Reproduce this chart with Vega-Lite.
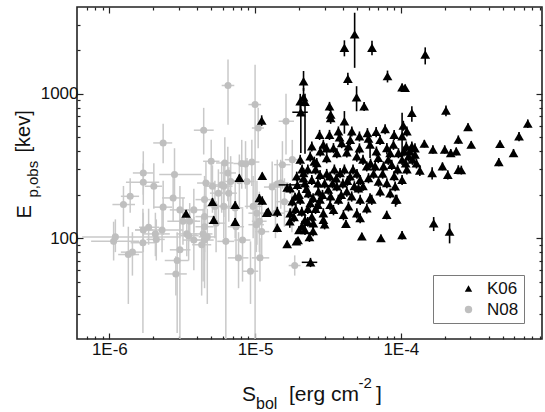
{
  "$schema": "https://vega.github.io/schema/vega-lite/v6.json",
  "width": 465,
  "height": 332,
  "autosize": {"type": "none"},
  "padding": {"left": 77, "top": 7, "right": 3, "bottom": 73},
  "config": {
    "view": {"stroke": "#222", "strokeWidth": 1.6},
    "font": "Liberation Sans",
    "axis": {"grid": false, "domain": false, "labelFont": "Liberation Sans", "titleFont": "Liberation Sans", "labelColor": "#111", "titleColor": "#111", "titleFontWeight": "normal", "tickColor": "#222", "tickWidth": 1.2}
  },
  "datasets": {
    "n08": [
      {"S":1.07e-6,"E":95,"Slo":7.5e-7,"Shi":1.6e-6,"Elo":70,"Ehi":130},
      {"S":1.1e-6,"E":102,"Slo":6.5e-7,"Shi":3.0e-6,"Elo":80,"Ehi":135},
      {"S":1.25e-6,"E":171,"Slo":1.05e-6,"Shi":1.5e-6,"Elo":120,"Ehi":230},
      {"S":1.39e-6,"E":195,"Slo":1.2e-6,"Shi":1.6e-6,"Elo":150,"Ehi":260},
      {"S":1.35e-6,"E":77,"Slo":1.15e-6,"Shi":1.6e-6,"Elo":35,"Ehi":120},
      {"S":1.44e-6,"E":80,"Slo":1.2e-6,"Shi":1.7e-6,"Elo":55,"Ehi":110},
      {"S":1.71e-6,"E":283,"Slo":1.45e-6,"Shi":2.0e-6,"Elo":200,"Ehi":400},
      {"S":1.71e-6,"E":244,"Slo":1.3e-6,"Shi":2.2e-6,"Elo":170,"Ehi":330},
      {"S":1.7e-6,"E":93,"Slo":1.4e-6,"Shi":2.1e-6,"Elo":22,"Ehi":160},
      {"S":1.71e-6,"E":114,"Slo":1.5e-6,"Shi":2.0e-6,"Elo":80,"Ehi":150},
      {"S":1.86e-6,"E":119,"Slo":1.6e-6,"Shi":2.2e-6,"Elo":90,"Ehi":160},
      {"S":2.02e-6,"E":229,"Slo":1.75e-6,"Shi":2.3e-6,"Elo":160,"Ehi":330},
      {"S":2.07e-6,"E":107,"Slo":1.7e-6,"Shi":2.6e-6,"Elo":75,"Ehi":150},
      {"S":2.1e-6,"E":98,"Slo":1.8e-6,"Shi":2.4e-6,"Elo":70,"Ehi":135},
      {"S":2.34e-6,"E":457,"Slo":2.0e-6,"Shi":2.7e-6,"Elo":330,"Ehi":620},
      {"S":2.34e-6,"E":164,"Slo":2.0e-6,"Shi":2.7e-6,"Elo":105,"Ehi":250},
      {"S":2.74e-6,"E":190,"Slo":2.3e-6,"Shi":3.3e-6,"Elo":130,"Ehi":270},
      {"S":2.8e-6,"E":276,"Slo":2.2e-6,"Shi":4.3e-6,"Elo":180,"Ehi":420},
      {"S":3.05e-6,"E":157,"Slo":2.6e-6,"Shi":3.6e-6,"Elo":100,"Ehi":230},
      {"S":2.92e-6,"E":70,"Slo":2.4e-6,"Shi":3.5e-6,"Elo":22,"Ehi":110},
      {"S":3.05e-6,"E":83,"Slo":2.6e-6,"Shi":3.6e-6,"Elo":12,"Ehi":130},
      {"S":2.86e-6,"E":56.5,"Slo":2.4e-6,"Shi":3.4e-6,"Elo":40,"Ehi":75},
      {"S":3.2e-6,"E":131,"Slo":2.5e-6,"Shi":4.0e-6,"Elo":90,"Ehi":190},
      {"S":3.4e-6,"E":107,"Slo":2.9e-6,"Shi":4.0e-6,"Elo":75,"Ehi":150},
      {"S":3.56e-6,"E":131,"Slo":3.0e-6,"Shi":4.2e-6,"Elo":95,"Ehi":175},
      {"S":3.8e-6,"E":157,"Slo":3.2e-6,"Shi":4.5e-6,"Elo":110,"Ehi":220},
      {"S":3.5e-6,"E":104,"Slo":3.0e-6,"Shi":4.1e-6,"Elo":70,"Ehi":140},
      {"S":4.44e-6,"E":560,"Slo":3.8e-6,"Shi":5.2e-6,"Elo":380,"Ehi":800},
      {"S":4.5e-6,"E":185,"Slo":3.9e-6,"Shi":5.2e-6,"Elo":120,"Ehi":270},
      {"S":4.6e-6,"E":241,"Slo":4.0e-6,"Shi":5.3e-6,"Elo":160,"Ehi":340},
      {"S":4.5e-6,"E":141,"Slo":3.9e-6,"Shi":5.2e-6,"Elo":80,"Ehi":200},
      {"S":4.4e-6,"E":107,"Slo":3.8e-6,"Shi":5.1e-6,"Elo":50,"Ehi":160},
      {"S":4.3e-6,"E":90,"Slo":3.7e-6,"Shi":5.0e-6,"Elo":40,"Ehi":140},
      {"S":4.5e-6,"E":97,"Slo":3.9e-6,"Shi":5.2e-6,"Elo":45,"Ehi":150},
      {"S":4.5e-6,"E":120,"Slo":3.9e-6,"Shi":5.2e-6,"Elo":70,"Ehi":170},
      {"S":4.7e-6,"E":102,"Slo":4.1e-6,"Shi":5.4e-6,"Elo":35,"Ehi":160},
      {"S":5.0e-6,"E":341,"Slo":4.4e-6,"Shi":5.7e-6,"Elo":230,"Ehi":480},
      {"S":5.1e-6,"E":229,"Slo":4.5e-6,"Shi":5.8e-6,"Elo":150,"Ehi":320},
      {"S":5.3e-6,"E":166,"Slo":4.6e-6,"Shi":6.1e-6,"Elo":100,"Ehi":250},
      {"S":5.4e-6,"E":127,"Slo":4.7e-6,"Shi":6.2e-6,"Elo":80,"Ehi":180},
      {"S":5.6e-6,"E":205,"Slo":4.9e-6,"Shi":6.4e-6,"Elo":130,"Ehi":300},
      {"S":5.9e-6,"E":234,"Slo":5.1e-6,"Shi":6.8e-6,"Elo":150,"Ehi":340},
      {"S":6.2e-6,"E":332,"Slo":5.4e-6,"Shi":7.1e-6,"Elo":200,"Ehi":500},
      {"S":6.1e-6,"E":229,"Slo":5.3e-6,"Shi":7.0e-6,"Elo":140,"Ehi":350},
      {"S":6.1e-6,"E":166,"Slo":5.3e-6,"Shi":7.0e-6,"Elo":100,"Ehi":260},
      {"S":6.3e-6,"E":95,"Slo":5.5e-6,"Shi":7.2e-6,"Elo":15,"Ehi":160},
      {"S":6.52e-6,"E":1143,"Slo":5.9e-6,"Shi":7.2e-6,"Elo":610,"Ehi":1730},
      {"S":6.5e-6,"E":283,"Slo":5.7e-6,"Shi":7.4e-6,"Elo":180,"Ehi":430},
      {"S":6.6e-6,"E":205,"Slo":5.8e-6,"Shi":7.5e-6,"Elo":130,"Ehi":310},
      {"S":6.8e-6,"E":247,"Slo":6.0e-6,"Shi":7.7e-6,"Elo":160,"Ehi":370},
      {"S":7.3e-6,"E":162,"Slo":6.4e-6,"Shi":8.3e-6,"Elo":100,"Ehi":250},
      {"S":7.4e-6,"E":120,"Slo":6.5e-6,"Shi":8.4e-6,"Elo":70,"Ehi":180},
      {"S":7.7e-6,"E":73,"Slo":6.5e-6,"Shi":9.0e-6,"Elo":45,"Ehi":110},
      {"S":7.8e-6,"E":250,"Slo":6.8e-6,"Shi":8.9e-6,"Elo":160,"Ehi":380},
      {"S":8.1e-6,"E":329,"Slo":7.1e-6,"Shi":9.2e-6,"Elo":220,"Ehi":480},
      {"S":8.6e-6,"E":327,"Slo":7.6e-6,"Shi":9.7e-6,"Elo":220,"Ehi":470},
      {"S":8.8e-6,"E":247,"Slo":7.8e-6,"Shi":9.9e-6,"Elo":160,"Ehi":360},
      {"S":9.3e-6,"E":59,"Slo":8.2e-6,"Shi":1.05e-5,"Elo":35,"Ehi":95},
      {"S":9.5e-6,"E":337,"Slo":8.4e-6,"Shi":1.07e-5,"Elo":230,"Ehi":480},
      {"S":1.0e-5,"E":843,"Slo":9.0e-6,"Shi":1.1e-5,"Elo":15,"Ehi":1590},
      {"S":1.05e-5,"E":580,"Slo":9.5e-6,"Shi":1.15e-5,"Elo":420,"Ehi":800},
      {"S":1.03e-5,"E":149,"Slo":9.0e-6,"Shi":1.2e-5,"Elo":90,"Ehi":250},
      {"S":1.07e-5,"E":131,"Slo":9.5e-6,"Shi":1.2e-5,"Elo":80,"Ehi":210},
      {"S":1.02e-5,"E":124,"Slo":9.0e-6,"Shi":1.15e-5,"Elo":80,"Ehi":190},
      {"S":1.08e-5,"E":73,"Slo":9.5e-6,"Shi":1.25e-5,"Elo":50,"Ehi":100},
      {"S":1.11e-5,"E":111,"Slo":1.0e-5,"Shi":1.25e-5,"Elo":70,"Ehi":170},
      {"S":1.31e-5,"E":226,"Slo":1.15e-5,"Shi":1.5e-5,"Elo":150,"Ehi":340},
      {"S":1.42e-5,"E":237,"Slo":1.25e-5,"Shi":1.6e-5,"Elo":160,"Ehi":350},
      {"S":1.38e-5,"E":149,"Slo":1.2e-5,"Shi":1.6e-5,"Elo":100,"Ehi":220},
      {"S":1.54e-5,"E":323,"Slo":1.35e-5,"Shi":1.75e-5,"Elo":220,"Ehi":470},
      {"S":1.59e-5,"E":179,"Slo":1.4e-5,"Shi":1.8e-5,"Elo":120,"Ehi":260},
      {"S":1.63e-5,"E":646,"Slo":1.45e-5,"Shi":1.85e-5,"Elo":380,"Ehi":1000},
      {"S":1.79e-5,"E":153,"Slo":1.6e-5,"Shi":2.0e-5,"Elo":110,"Ehi":210},
      {"S":1.87e-5,"E":64.6,"Slo":1.7e-5,"Shi":2.05e-5,"Elo":55,"Ehi":76},
      {"S":1.8e-5,"E":350,"Slo":1.6e-5,"Shi":2.0e-5,"Elo":250,"Ehi":480},
      {"S":1.5e-5,"E":241,"Slo":1.3e-5,"Shi":1.7e-5,"Elo":160,"Ehi":350},
      {"S":9.7e-6,"E":166,"Slo":8.5e-6,"Shi":1.1e-5,"Elo":100,"Ehi":270},
      {"S":8.2e-6,"E":97,"Slo":7.2e-6,"Shi":9.3e-6,"Elo":50,"Ehi":160},
      {"S":3.8e-6,"E":97,"Slo":3.2e-6,"Shi":4.5e-6,"Elo":60,"Ehi":140},
      {"S":2.3e-6,"E":114,"Slo":1.5e-6,"Shi":3.2e-6,"Elo":80,"Ehi":160}
    ],
    "k06": [
      {"S":4.82e-5,"E":2583,"Elo":1515,"Ehi":3650},
      {"S":4.1e-5,"E":2085,"Elo":1820,"Ehi":2350},
      {"S":6.34e-5,"E":2085,"Elo":1850,"Ehi":2330},
      {"S":1.47e-4,"E":1875,"Elo":1600,"Ehi":2100},
      {"S":4.33e-5,"E":1271,"Elo":1150,"Ehi":1400},
      {"S":8.1e-5,"E":1327,"Elo":1200,"Ehi":1450},
      {"S":1.02e-4,"E":1112,"Elo":1050,"Ehi":1180},
      {"S":1.07e-4,"E":1100,"Elo":1040,"Ehi":1160},
      {"S":2.15e-5,"E":1224,"Elo":1050,"Ehi":1440},
      {"S":2.15e-5,"E":948,"Elo":820,"Ehi":1100},
      {"S":2.04e-5,"E":889,"Elo":760,"Ehi":1000},
      {"S":2.06e-5,"E":746,"Elo":389,"Ehi":900,"Slo":1.8e-5,"Shi":2.3e-5},
      {"S":2.2e-5,"E":880,"Elo":385,"Ehi":1000},
      {"S":4.97e-5,"E":948,"Elo":758,"Ehi":1130},
      {"S":5.6e-5,"E":821,"Elo":760,"Ehi":880},
      {"S":3.24e-5,"E":821,"Elo":760,"Ehi":880},
      {"S":4.1e-5,"E":646,"Elo":530,"Ehi":760},
      {"S":3.3e-5,"E":681,"Elo":620,"Ehi":740},
      {"S":1.19e-4,"E":738,"Elo":640,"Ehi":820},
      {"S":2.04e-4,"E":766,"Elo":700,"Ehi":830},
      {"S":1.11e-5,"E":653,"Elo":600,"Ehi":710},
      {"S":7.43e-4,"E":622,"Elo":580,"Ehi":665},
      {"S":6.47e-4,"E":508,"Elo":470,"Ehi":545},
      {"S":2.89e-4,"E":590,"Elo":555,"Ehi":625},
      {"S":3.04e-4,"E":445,"Elo":420,"Ehi":470},
      {"S":4.79e-4,"E":450,"Elo":425,"Ehi":475},
      {"S":4.7e-4,"E":337,"Elo":315,"Ehi":360},
      {"S":5.93e-4,"E":389,"Elo":365,"Ehi":415},
      {"S":1.45e-4,"E":452,"Elo":425,"Ehi":480},
      {"S":1.66e-4,"E":411,"Elo":385,"Ehi":440},
      {"S":2.0e-4,"E":411,"Elo":385,"Ehi":440},
      {"S":2.2e-4,"E":389,"Elo":365,"Ehi":415},
      {"S":2.48e-4,"E":482,"Elo":450,"Ehi":515},
      {"S":2.4e-4,"E":400,"Elo":375,"Ehi":425},
      {"S":1.35e-4,"E":294,"Elo":270,"Ehi":320},
      {"S":1.64e-4,"E":283,"Elo":255,"Ehi":310},
      {"S":1.93e-4,"E":315,"Elo":295,"Ehi":335},
      {"S":2.1e-4,"E":275,"Elo":255,"Ehi":295},
      {"S":2.48e-4,"E":298,"Elo":278,"Ehi":320},
      {"S":2.6e-4,"E":296,"Elo":276,"Ehi":318},
      {"S":1.68e-4,"E":127,"Elo":112,"Ehi":140},
      {"S":2.16e-4,"E":111,"Elo":92,"Ehi":127},
      {"S":1.02e-4,"E":105,"Elo":98,"Ehi":112},
      {"S":7.3e-5,"E":100,"Elo":94,"Ehi":106},
      {"S":5.4e-5,"E":103,"Elo":97,"Ehi":109},
      {"S":4.2e-5,"E":126,"Elo":118,"Ehi":134},
      {"S":8.0e-5,"E":145,"Elo":135,"Ehi":155},
      {"S":9.2e-5,"E":185,"Elo":165,"Ehi":200},
      {"S":2.4e-5,"E":68,"Elo":63,"Ehi":73,"Slo":2.09e-5,"Shi":2.67e-5},
      {"S":1.92e-5,"E":95,"Elo":90,"Ehi":100},
      {"S":1.66e-5,"E":91,"Elo":86,"Ehi":96},
      {"S":1.73e-5,"E":131,"Elo":118,"Ehi":145},
      {"S":1.42e-5,"E":153,"Elo":140,"Ehi":165},
      {"S":1.2e-5,"E":150,"Elo":142,"Ehi":158},
      {"S":1.12e-5,"E":271,"Elo":258,"Ehi":285},
      {"S":1.12e-5,"E":182,"Elo":170,"Ehi":195},
      {"S":1.07e-5,"E":190,"Elo":178,"Ehi":202},
      {"S":7.8e-6,"E":262,"Elo":248,"Ehi":276},
      {"S":5.1e-6,"E":179,"Elo":168,"Ehi":190},
      {"S":7.3e-6,"E":170,"Elo":160,"Ehi":180},
      {"S":7.3e-6,"E":130,"Elo":122,"Ehi":138},
      {"S":5.2e-6,"E":134,"Elo":126,"Ehi":142},
      {"S":3.36e-6,"E":148,"Elo":140,"Ehi":156},
      {"S":1.23e-5,"E":153,"Elo":144,"Ehi":162},
      {"S":1.42e-5,"E":118,"Elo":110,"Ehi":126},
      {"S":1.97e-5,"E":97,"Elo":92,"Ehi":102},
      {"S":1.88e-5,"E":194,"Elo":182,"Ehi":206},
      {"S":1.66e-5,"E":224,"Elo":210,"Ehi":238},
      {"S":2.0e-5,"E":114,"Elo":107,"Ehi":121},
      {"S":2.77e-5,"E":521,"Elo":479,"Ehi":563},
      {"S":3.24e-5,"E":521,"Elo":479,"Ehi":563},
      {"S":3.73e-5,"E":551,"Elo":507,"Ehi":595},
      {"S":4.61e-5,"E":551,"Elo":507,"Ehi":595},
      {"S":5.2e-5,"E":508,"Elo":467,"Ehi":549},
      {"S":5.9e-5,"E":536,"Elo":493,"Ehi":579},
      {"S":6.77e-5,"E":545,"Elo":501,"Ehi":589},
      {"S":7.8e-5,"E":571,"Elo":525,"Ehi":617},
      {"S":1.04e-4,"E":603,"Elo":555,"Ehi":651},
      {"S":1.02e-4,"E":508,"Elo":370,"Ehi":740},
      {"S":3.3e-5,"E":718,"Elo":661,"Ehi":775},
      {"S":2.45e-5,"E":433,"Elo":398,"Ehi":468},
      {"S":2.94e-5,"E":445,"Elo":409,"Ehi":481},
      {"S":3.45e-5,"E":422,"Elo":388,"Ehi":456},
      {"S":3.93e-5,"E":457,"Elo":420,"Ehi":494},
      {"S":4.37e-5,"E":433,"Elo":398,"Ehi":468},
      {"S":6.15e-5,"E":445,"Elo":360,"Ehi":481},
      {"S":8.02e-5,"E":422,"Elo":380,"Ehi":456},
      {"S":8.9e-5,"E":445,"Elo":409,"Ehi":481},
      {"S":1.09e-4,"E":433,"Elo":398,"Ehi":468},
      {"S":1.19e-4,"E":433,"Elo":398,"Ehi":468},
      {"S":8.45e-5,"E":389,"Elo":358,"Ehi":420},
      {"S":9.63e-5,"E":389,"Elo":358,"Ehi":420},
      {"S":2.04e-5,"E":350,"Elo":322,"Ehi":378},
      {"S":2.39e-5,"E":369,"Elo":339,"Ehi":399},
      {"S":2.65e-5,"E":332,"Elo":305,"Ehi":359},
      {"S":3.1e-5,"E":359,"Elo":330,"Ehi":388},
      {"S":3.64e-5,"E":389,"Elo":358,"Ehi":420},
      {"S":4.26e-5,"E":394,"Elo":362,"Ehi":426},
      {"S":4.99e-5,"E":369,"Elo":339,"Ehi":399},
      {"S":5.84e-5,"E":315,"Elo":290,"Ehi":340},
      {"S":6.67e-5,"E":315,"Elo":290,"Ehi":340},
      {"S":7.6e-5,"E":315,"Elo":290,"Ehi":340},
      {"S":8.67e-5,"E":323,"Elo":297,"Ehi":349},
      {"S":1.02e-4,"E":350,"Elo":322,"Ehi":378},
      {"S":1.13e-4,"E":369,"Elo":339,"Ehi":399},
      {"S":1.74e-5,"E":222,"Elo":204,"Ehi":240},
      {"S":1.93e-5,"E":268,"Elo":247,"Ehi":289},
      {"S":2.15e-5,"E":283,"Elo":260,"Ehi":306},
      {"S":2.45e-5,"E":254,"Elo":234,"Ehi":274},
      {"S":2.79e-5,"E":275,"Elo":253,"Ehi":297},
      {"S":3.27e-5,"E":268,"Elo":247,"Ehi":289},
      {"S":3.83e-5,"E":283,"Elo":260,"Ehi":306},
      {"S":4.49e-5,"E":268,"Elo":247,"Ehi":289},
      {"S":5.26e-5,"E":254,"Elo":234,"Ehi":274},
      {"S":6.0e-5,"E":261,"Elo":240,"Ehi":282},
      {"S":7.03e-5,"E":247,"Elo":227,"Ehi":267},
      {"S":8.02e-5,"E":241,"Elo":222,"Ehi":260},
      {"S":9.14e-5,"E":229,"Elo":211,"Ehi":247},
      {"S":1.02e-4,"E":254,"Elo":234,"Ehi":274},
      {"S":2.32e-5,"E":205,"Elo":189,"Ehi":221},
      {"S":2.72e-5,"E":211,"Elo":194,"Ehi":228},
      {"S":3.18e-5,"E":217,"Elo":200,"Ehi":234},
      {"S":3.64e-5,"E":229,"Elo":211,"Ehi":247},
      {"S":4.26e-5,"E":211,"Elo":194,"Ehi":228},
      {"S":5.12e-5,"E":222,"Elo":204,"Ehi":240},
      {"S":6.15e-5,"E":190,"Elo":175,"Ehi":205},
      {"S":7.21e-5,"E":211,"Elo":194,"Ehi":228},
      {"S":8.45e-5,"E":205,"Elo":189,"Ehi":221},
      {"S":9.38e-5,"E":185,"Elo":170,"Ehi":200},
      {"S":2.04e-5,"E":185,"Elo":170,"Ehi":200},
      {"S":2.39e-5,"E":175,"Elo":161,"Ehi":189},
      {"S":2.79e-5,"E":185,"Elo":170,"Ehi":200},
      {"S":3.27e-5,"E":170,"Elo":156,"Ehi":184},
      {"S":3.73e-5,"E":185,"Elo":170,"Ehi":200},
      {"S":4.37e-5,"E":166,"Elo":153,"Ehi":179},
      {"S":5.26e-5,"E":185,"Elo":170,"Ehi":200},
      {"S":6.32e-5,"E":185,"Elo":170,"Ehi":200},
      {"S":1.74e-5,"E":149,"Elo":137,"Ehi":161},
      {"S":2.09e-5,"E":153,"Elo":141,"Ehi":165},
      {"S":2.45e-5,"E":141,"Elo":130,"Ehi":152},
      {"S":2.94e-5,"E":149,"Elo":137,"Ehi":161},
      {"S":3.45e-5,"E":157,"Elo":144,"Ehi":170},
      {"S":4.04e-5,"E":145,"Elo":133,"Ehi":157},
      {"S":4.99e-5,"E":149,"Elo":137,"Ehi":161},
      {"S":5.84e-5,"E":161,"Elo":148,"Ehi":174},
      {"S":2.2e-5,"E":134,"Elo":123,"Ehi":145},
      {"S":2.51e-5,"E":127,"Elo":117,"Ehi":137},
      {"S":2.94e-5,"E":134,"Elo":123,"Ehi":145},
      {"S":5.26e-5,"E":138,"Elo":127,"Ehi":149},
      {"S":2.2e-5,"E":114,"Elo":105,"Ehi":123},
      {"S":2.36e-5,"E":102,"Elo":94,"Ehi":110},
      {"S":2.6e-5,"E":300,"Elo":276,"Ehi":324},
      {"S":3.0e-5,"E":240,"Elo":221,"Ehi":259},
      {"S":3.5e-5,"E":300,"Elo":276,"Ehi":324},
      {"S":4.0e-5,"E":240,"Elo":221,"Ehi":259},
      {"S":4.7e-5,"E":300,"Elo":276,"Ehi":324},
      {"S":2.2e-5,"E":240,"Elo":221,"Ehi":259},
      {"S":2.3e-5,"E":300,"Elo":276,"Ehi":324},
      {"S":3.9e-5,"E":200,"Elo":184,"Ehi":216},
      {"S":4.6e-5,"E":195,"Elo":179,"Ehi":211},
      {"S":5.5e-5,"E":230,"Elo":212,"Ehi":248},
      {"S":6.5e-5,"E":280,"Elo":258,"Ehi":302},
      {"S":7.0e-5,"E":360,"Elo":331,"Ehi":389},
      {"S":9.0e-5,"E":270,"Elo":248,"Ehi":292},
      {"S":1.1e-4,"E":300,"Elo":276,"Ehi":324},
      {"S":1.2e-4,"E":350,"Elo":322,"Ehi":378},
      {"S":1.15e-4,"E":400,"Elo":368,"Ehi":432},
      {"S":1.25e-4,"E":420,"Elo":386,"Ehi":454},
      {"S":6.0e-5,"E":490,"Elo":451,"Ehi":529},
      {"S":4.5e-5,"E":480,"Elo":442,"Ehi":518},
      {"S":2.8e-5,"E":400,"Elo":368,"Ehi":432},
      {"S":2.1e-5,"E":300,"Elo":276,"Ehi":324},
      {"S":1.8e-5,"E":180,"Elo":166,"Ehi":194},
      {"S":1.9e-5,"E":160,"Elo":147,"Ehi":173},
      {"S":2.6e-5,"E":160,"Elo":147,"Ehi":173},
      {"S":3.0e-5,"E":125,"Elo":115,"Ehi":135},
      {"S":2.1e-5,"E":122,"Elo":112,"Ehi":132},
      {"S":2.5e-5,"E":112,"Elo":103,"Ehi":121},
      {"S":1.95e-5,"E":234,"Elo":215,"Ehi":253,"Slo":1.45e-5,"Shi":2.1e-5},
      {"S":1.25e-4,"E":380,"Elo":350,"Ehi":410},
      {"S":1.28e-4,"E":330,"Elo":304,"Ehi":356},
      {"S":2.0e-5,"E":200,"Elo":184,"Ehi":216},
      {"S":2.25e-5,"E":220,"Elo":202,"Ehi":238},
      {"S":2.5e-5,"E":190,"Elo":175,"Ehi":205},
      {"S":2.7e-5,"E":240,"Elo":221,"Ehi":259},
      {"S":2.9e-5,"E":200,"Elo":184,"Ehi":216},
      {"S":3.1e-5,"E":280,"Elo":258,"Ehi":302},
      {"S":3.4e-5,"E":240,"Elo":221,"Ehi":259},
      {"S":3.6e-5,"E":260,"Elo":239,"Ehi":281},
      {"S":4.1e-5,"E":300,"Elo":276,"Ehi":324},
      {"S":4.3e-5,"E":250,"Elo":230,"Ehi":270},
      {"S":4.8e-5,"E":230,"Elo":212,"Ehi":248},
      {"S":5.0e-5,"E":280,"Elo":258,"Ehi":302},
      {"S":5.5e-5,"E":350,"Elo":322,"Ehi":378},
      {"S":6.2e-5,"E":330,"Elo":304,"Ehi":356},
      {"S":6.8e-5,"E":400,"Elo":368,"Ehi":432},
      {"S":7.5e-5,"E":280,"Elo":258,"Ehi":302},
      {"S":8.2e-5,"E":350,"Elo":322,"Ehi":378},
      {"S":9.5e-5,"E":300,"Elo":276,"Ehi":324},
      {"S":1.05e-4,"E":400,"Elo":368,"Ehi":432},
      {"S":1.08e-4,"E":330,"Elo":304,"Ehi":356},
      {"S":2.3e-5,"E":160,"Elo":147,"Ehi":173},
      {"S":2.7e-5,"E":170,"Elo":156,"Ehi":184},
      {"S":3.3e-5,"E":195,"Elo":179,"Ehi":211},
      {"S":1.85e-5,"E":140,"Elo":129,"Ehi":151},
      {"S":2.3e-5,"E":130,"Elo":120,"Ehi":140},
      {"S":2.15e-5,"E":260,"Elo":239,"Ehi":281},
      {"S":2.55e-5,"E":340,"Elo":313,"Ehi":367},
      {"S":3.1e-5,"E":420,"Elo":386,"Ehi":454},
      {"S":3.8e-5,"E":500,"Elo":460,"Ehi":540},
      {"S":5.2e-5,"E":420,"Elo":386,"Ehi":454},
      {"S":7.2e-5,"E":480,"Elo":442,"Ehi":518},
      {"S":9.0e-5,"E":520,"Elo":478,"Ehi":562},
      {"S":1.1e-4,"E":550,"Elo":506,"Ehi":594}
    ]
  },
  "resolve": {"axis": {"x": "independent", "y": "independent"}},
  "layer": [
    {
      "data": {"name": "n08"},
      "mark": {"type": "rule", "color": "#c9c9c9", "strokeWidth": 1.5, "clip": true},
      "encoding": {
        "x": {"field": "Slo", "type": "quantitative", "scale": {"type": "log", "domain": [6e-7, 9.3e-4], "nice": false},
          "axis": {"orient": "bottom", "values": [7e-7,8e-7,9e-7,1e-6,2e-6,3e-6,4e-6,5e-6,6e-6,7e-6,8e-6,9e-6,1e-5,2e-5,3e-5,4e-5,5e-5,6e-5,7e-5,8e-5,9e-5,1e-4,2e-4,3e-4,4e-4,5e-4,6e-4,7e-4,8e-4,9e-4],
            "tickSize": {"condition": {"test": "abs(log(datum.value)/LN10 - round(log(datum.value)/LN10)) < 0.001", "value": -6}, "value": -3},
            "labelExpr": "abs(log(datum.value)/LN10 - round(log(datum.value)/LN10)) < 0.001 ? '1E' + round(log(datum.value)/LN10) : ''",
            "labelOverlap": false, "labelFlush": false, "labelFontSize": 17, "labelPadding": 8,
            "title": "S", "titleFontSize": 21, "titleX": 164.6, "titleY": 61, "titleAlign": "left", "titleBaseline": "alphabetic", "titleAnchor": null}},
        "x2": {"field": "Shi"},
        "y": {"field": "E", "type": "quantitative", "scale": {"type": "log", "domain": [20, 4000], "nice": false},
          "axis": {"orient": "left", "values": [30,40,50,60,70,80,90,100,200,300,400,500,600,700,800,900,1000,2000,3000],
            "tickSize": {"condition": {"test": "abs(log(datum.value)/LN10 - round(log(datum.value)/LN10)) < 0.001", "value": -6}, "value": -3},
            "labelExpr": "abs(log(datum.value)/LN10 - round(log(datum.value)/LN10)) < 0.001 ? format(datum.value, 'd') : ''",
            "labelOverlap": false, "labelFlush": false, "labelFontSize": 17, "labelPadding": 5,
            "title": "E", "titleFontSize": 20, "titleAngle": -90, "titleX": -47, "titleY": 211, "titleAlign": "left", "titleBaseline": "alphabetic", "titleAnchor": null}}
      }
    },
    {
      "data": {"name": "n08"},
      "mark": {"type": "rule", "color": "#c9c9c9", "strokeWidth": 1.5, "clip": true},
      "encoding": {
        "x": {"field": "S", "type": "quantitative", "scale": {"type": "log", "domain": [6e-7, 9.3e-4], "nice": false},
          "axis": {"orient": "top", "values": [7e-7,8e-7,9e-7,1e-6,2e-6,3e-6,4e-6,5e-6,6e-6,7e-6,8e-6,9e-6,1e-5,2e-5,3e-5,4e-5,5e-5,6e-5,7e-5,8e-5,9e-5,1e-4,2e-4,3e-4,4e-4,5e-4,6e-4,7e-4,8e-4,9e-4],
            "tickSize": {"condition": {"test": "abs(log(datum.value)/LN10 - round(log(datum.value)/LN10)) < 0.001", "value": -6}, "value": -3},
            "labels": false, "title": null}},
        "y": {"field": "Elo", "type": "quantitative", "scale": {"type": "log", "domain": [20, 4000], "nice": false},
          "axis": {"orient": "right", "values": [30,40,50,60,70,80,90,100,200,300,400,500,600,700,800,900,1000,2000,3000],
            "tickSize": {"condition": {"test": "abs(log(datum.value)/LN10 - round(log(datum.value)/LN10)) < 0.001", "value": -6}, "value": -3},
            "labels": false, "title": null}},
        "y2": {"field": "Ehi"}
      }
    },
    {
      "data": {"name": "n08"},
      "mark": {"type": "point", "filled": true, "opacity": 1, "clip": true},
      "encoding": {
        "x": {"field": "S", "type": "quantitative", "scale": {"type": "log", "domain": [6e-7, 9.3e-4], "nice": false},
          "axis": {"orient": "bottom", "labels": false, "ticks": false, "domain": false, "title": "bol", "titleFontSize": 16, "titleX": 178.5, "titleY": 69, "titleAlign": "left", "titleBaseline": "alphabetic", "titleAnchor": null}},
        "y": {"field": "E", "type": "quantitative", "scale": {"type": "log", "domain": [20, 4000], "nice": false},
          "axis": {"orient": "left", "labels": false, "ticks": false, "domain": false, "title": "p,obs", "titleFontSize": 15, "titleAngle": -90, "titleX": -40, "titleY": 190, "titleAlign": "left", "titleBaseline": "alphabetic", "titleAnchor": null}},
        "color": {"datum": "N08", "scale": {"domain": ["K06", "N08"], "range": ["#000000", "#bfbfbf"]},
          "legend": {"orient": "none", "legendX": 356, "legendY": 268, "title": null, "strokeColor": "#7a7a7a", "padding": 5, "symbolOffset": 22, "labelOffset": 10, "labelFontSize": 17, "labelFont": "Liberation Sans", "labelColor": "#111", "rowPadding": 3, "symbolSize": 55}},
        "shape": {"datum": "N08", "scale": {"domain": ["K06", "N08"], "range": ["triangle-up", "circle"]}},
        "size": {"value": 50}
      }
    },
    {
      "data": {"name": "k06"},
      "mark": {"type": "rule", "color": "#000", "strokeWidth": 1.6, "clip": true},
      "encoding": {
        "x": {"field": "S", "type": "quantitative", "scale": {"type": "log", "domain": [6e-7, 9.3e-4], "nice": false},
          "axis": {"orient": "bottom", "labels": false, "ticks": false, "domain": false, "title": "[erg cm", "titleFontSize": 21, "titleX": 211.5, "titleY": 61, "titleAlign": "left", "titleBaseline": "alphabetic", "titleAnchor": null}},
        "y": {"field": "Elo", "type": "quantitative", "scale": {"type": "log", "domain": [20, 4000], "nice": false},
          "axis": {"orient": "left", "labels": false, "ticks": false, "domain": false, "title": "[kev]", "titleFontSize": 20, "titleAngle": -90, "titleX": -48, "titleY": 145, "titleAlign": "left", "titleBaseline": "alphabetic", "titleAnchor": null}},
        "y2": {"field": "Ehi"}
      }
    },
    {
      "data": {"name": "k06"},
      "transform": [{"filter": "datum.Slo != null"}],
      "mark": {"type": "rule", "color": "#000", "strokeWidth": 1.5, "clip": true},
      "encoding": {
        "x": {"field": "Slo", "type": "quantitative", "scale": {"type": "log", "domain": [6e-7, 9.3e-4], "nice": false},
          "axis": {"orient": "bottom", "labels": false, "ticks": false, "domain": false, "title": "-2", "titleFontSize": 15, "titleX": 281, "titleY": 48, "titleAlign": "left", "titleBaseline": "alphabetic", "titleAnchor": null}},
        "x2": {"field": "Shi"},
        "y": {"field": "E", "type": "quantitative", "scale": {"type": "log", "domain": [20, 4000], "nice": false}, "axis": null}
      }
    },
    {
      "data": {"name": "k06"},
      "mark": {"type": "point", "filled": true, "opacity": 1, "clip": true},
      "encoding": {
        "x": {"field": "S", "type": "quantitative", "scale": {"type": "log", "domain": [6e-7, 9.3e-4], "nice": false},
          "axis": {"orient": "bottom", "labels": false, "ticks": false, "domain": false, "title": "]", "titleFontSize": 21, "titleX": 298.4, "titleY": 61, "titleAlign": "left", "titleBaseline": "alphabetic", "titleAnchor": null}},
        "y": {"field": "E", "type": "quantitative", "scale": {"type": "log", "domain": [20, 4000], "nice": false}, "axis": null},
        "color": {"datum": "K06", "scale": {"domain": ["K06", "N08"], "range": ["#000000", "#bfbfbf"]}},
        "shape": {"datum": "K06", "scale": {"domain": ["K06", "N08"], "range": ["triangle-up", "circle"]}},
        "size": {"value": 95}
      }
    }
  ]
}
